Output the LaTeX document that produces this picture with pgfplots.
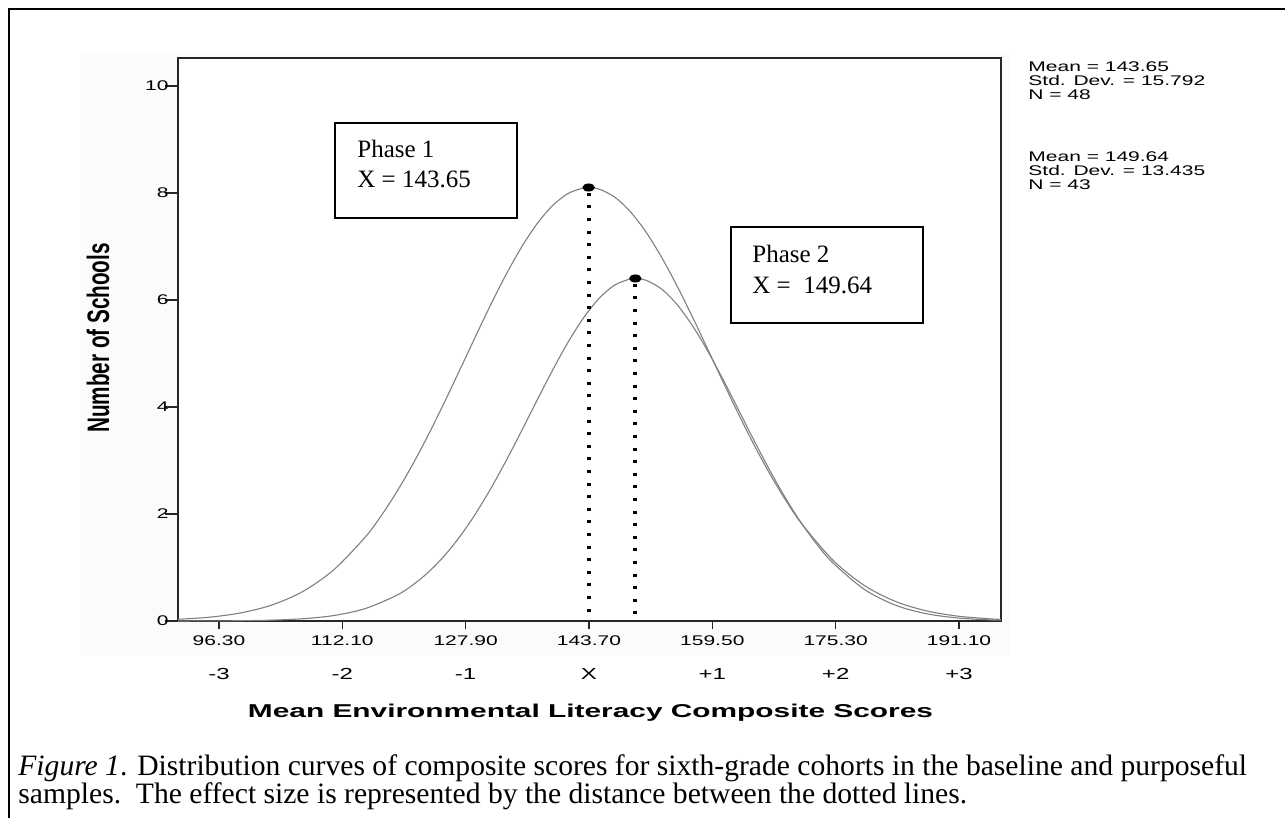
\documentclass[border=0pt]{standalone}
\usepackage{pgfplots}
\pgfplotsset{compat=1.18}
\usepackage{fontspec}
\usepackage{graphicx}
\setmainfont{Liberation Serif}
\newfontfamily\arial{Liberation Sans}
\newcommand\SX[1]{\scalebox{1.5}[1]{\arial\fontsize{7}{8}\selectfont #1}}
\newcommand\SR[1]{\scalebox{1.5}[1]{\arial\fontsize{8}{9}\selectfont #1}}
\begin{document}
\begin{tikzpicture}
\useasboundingbox (0,0) rectangle (642.5pt,-409pt);
\begin{scope}[x=0.5pt,y=-0.5pt]
\fill[gray!3] (80,52) rectangle (1010,655);
\draw[line width=1.3pt] (9,818) -- (9,9) -- (1285,9);
\end{scope}
\begin{axis}[
  at={(89pt,-310.5pt)}, anchor=south west,
  scale only axis, width=411.5pt, height=281.5pt,
  xmin=91.05, xmax=196.48, ymin=0, ymax=10.52,
  axis line style={line width=0.9pt, black!85},
  axis background/.style={fill=white},
  tick align=outside, xtick pos=bottom, ytick pos=left,
  major tick length=4pt,
  tick style={line width=0.7pt, black!85},
  ytick style={/pgfplots/major tick length=6.5pt},
  xtick={96.3,112.1,127.9,143.7,159.5,175.3,191.1},
  xticklabels={\SX{96.30},\SX{112.10},\SX{127.90},\SX{143.70},\SX{159.50},\SX{175.30},\SX{191.10}},
  xticklabel style={anchor=north, inner sep=0pt, yshift=-3pt},
  extra x ticks={96.3,112.1,127.9,143.7,159.5,175.3,191.1},
  extra x tick labels={\SR{-3},\SR{-2},\SR{-1},\SR{X},\SR{+1},\SR{+2},\SR{+3}},
  extra x tick style={xticklabel style={yshift=-16.5pt}},
  ytick={0,2,4,6,8,10},
  yticklabels={\SX{0},\SX{2},\SX{4},\SX{6},\SX{8},\SX{10}},
  yticklabel style={anchor=east, inner sep=0pt, xshift=-0.5pt},
]
\addplot[smooth, black!50, line width=0.55pt] coordinates {
(91.05,0.032) (95,0.070) (99,0.149) (103,0.295) (107,0.548) (111,0.956)
(115,1.562) (117,1.950) (119,2.396) (121,2.896) (123,3.445) (125,4.033)
(127,4.646) (129,5.267) (131,5.877) (133,6.453) (135,6.972) (137,7.413)
(139,7.757) (141,7.987) (143,8.093) (143.65,8.1) (145,8.070) (147,7.920)
(149,7.648) (151,7.269) (153,6.797) (155,6.256) (157,5.667) (159,5.050)
(161,4.430) (163,3.823) (165,3.248) (167,2.715) (169,2.233) (171,1.808)
(175,1.129) (179,0.661) (183,0.363) (187,0.187) (191,0.090) (195,0.041) (196.48,0.030)};
\addplot[smooth, black!50, line width=0.55pt] coordinates {
(91.05,0.0005) (95,0.002) (99,0.005) (103,0.016) (107,0.042) (111,0.102)
(115,0.230) (119,0.475) (121,0.660) (123,0.896) (125,1.190) (127,1.547)
(129,1.967) (131,2.445) (133,2.972) (135,3.535) (137,4.111) (139,4.677)
(141,5.205) (143,5.664) (145,6.030) (147,6.278) (149,6.393) (149.64,6.4)
(151,6.367) (153,6.203) (155,5.910) (157,5.508) (159,5.021) (161,4.476)
(163,3.903) (165,3.329) (167,2.778) (169,2.266) (171,1.809) (173,1.412)
(175,1.078) (179,0.588) (183,0.293) (187,0.134) (191,0.056) (195,0.021) (196.48,0.015)};
\addplot[black, line width=2pt, dash pattern=on 1.5pt off 4.8pt] coordinates {(143.65,8.0) (143.65,0)};
\addplot[black, line width=2pt, dash pattern=on 1.5pt off 4.8pt] coordinates {(149.64,6.3) (149.64,0)};
\addplot[only marks, mark=*, mark size=1.8pt, mark options={xscale=1.6, fill=black, draw=black}] coordinates {(143.65,8.1) (149.64,6.4)};
\end{axis}
\begin{scope}[x=0.5pt,y=-0.5pt]
\draw[line width=0.8pt, fill=white] (335,123) rectangle (517,218);
\node[anchor=base west, inner sep=0pt, font=\fontsize{12.5}{15}\selectfont] at (357,158) {Phase 1};
\node[anchor=base west, inner sep=0pt, font=\fontsize{12.5}{15}\selectfont] at (357,188) {X = 143.65};
\draw[line width=0.8pt, fill=white] (731,227) rectangle (923,323);
\node[anchor=base west, inner sep=0pt, font=\fontsize{12.5}{15}\selectfont] at (752,263) {Phase 2};
\node[anchor=base west, inner sep=0pt, font=\fontsize{12.5}{15}\selectfont] at (752,293) {X =\ \ 149.64};
\node[anchor=base west, inner sep=0pt] at (1028,72) {\SX{Mean = 143.65}};
\node[anchor=base west, inner sep=0pt] at (1028,86) {\SX{Std. Dev. = 15.792}};
\node[anchor=base west, inner sep=0pt] at (1028,100) {\SX{N = 48}};
\node[anchor=base west, inner sep=0pt] at (1028,162) {\SX{Mean = 149.64}};
\node[anchor=base west, inner sep=0pt] at (1028,176) {\SX{Std. Dev. = 13.435}};
\node[anchor=base west, inner sep=0pt] at (1028,190) {\SX{N = 43}};
\node[rotate=90, inner sep=0pt] at (98,338) {\scalebox{1}[1.5]{\arial\bfseries\fontsize{10.35}{12}\selectfont Number of Schools}};
\node[anchor=base, inner sep=0pt] at (590.5,717) {\resizebox{342.5pt}{\height}{\arial\bfseries\fontsize{9.3}{11}\selectfont Mean Environmental Literacy Composite Scores}};
\node[anchor=base west, inner sep=0pt, font=\fontsize{14.8}{17}\selectfont] at (18,775) {\textit{Figure 1}. Distribution curves of composite scores for sixth-grade cohorts in the baseline and purposeful};
\node[anchor=base west, inner sep=0pt, font=\fontsize{14.8}{17}\selectfont] at (18,803) {samples.\ \ The effect size is represented by the distance between the dotted lines.};
\end{scope}
\end{tikzpicture}
\end{document}
